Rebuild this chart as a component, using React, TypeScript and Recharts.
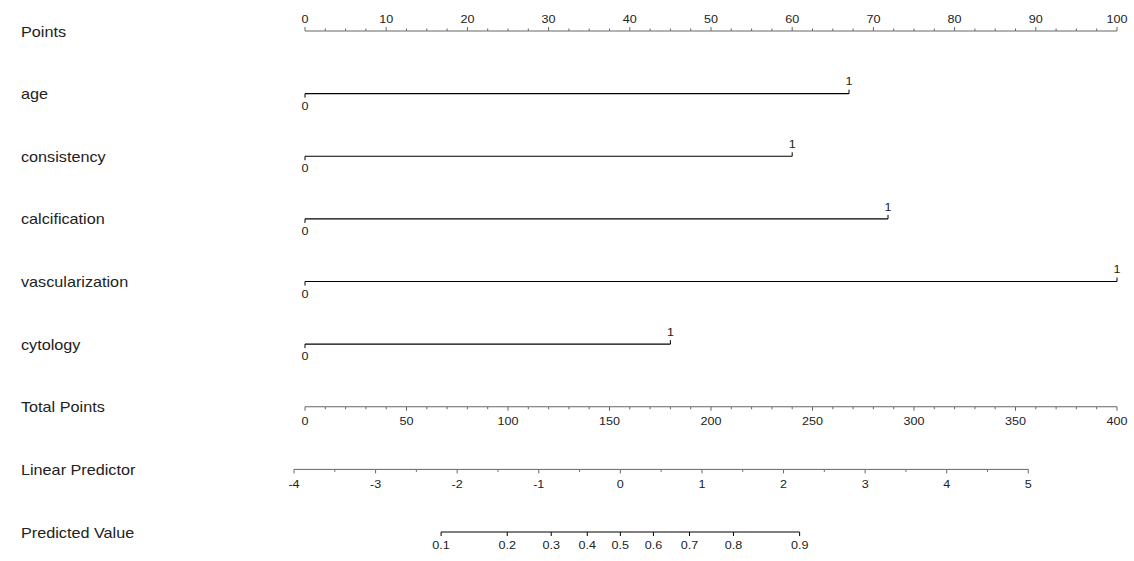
import React from "react";
import { ComposedChart, Scatter, XAxis, YAxis } from "recharts";

// nomogram rows, top to bottom
const rowLabels = [
  "Points",
  "age",
  "consistency",
  "calcification",
  "vascularization",
  "cytology",
  "Total Points",
  "Linear Predictor",
  "Predicted Value",
];

const varNames = ["age", "consistency", "calcification", "vascularization", "cytology"];
const varPoints = [67, 60, 71.8, 100, 45];
const varLevels = ["0", "1"];

const pointsMajor = [0, 10, 20, 30, 40, 50, 60, 70, 80, 90, 100];
const totalMajor = [0, 50, 100, 150, 200, 250, 300, 350, 400];
const lpMajor = [-4, -3, -2, -1, 0, 1, 2, 3, 4, 5];
const probTicks = [0.1, 0.2, 0.3, 0.4, 0.5, 0.6, 0.7, 0.8, 0.9];

// the plot area starts at the -4 of the linear predictor, so the point
// scales start a little below zero
const pointsDomain = [-1.355, 100];
const totalDomain = [-5.42, 400];
const lpDomain = [-4, 6.087];

const FONT = "'Liberation Sans', Arial, sans-serif";

const range = (a: number, b: number, step: number) => {
  const out: number[] = [];
  for (let v = a; v <= b + 1e-9; v += step) out.push(+v.toFixed(4));
  return out;
};

const logit = (p: number) => Math.log(p / (1 - p));

const pointsData = range(0, 100, 2.5).map((v) => ({
  x: v,
  y: 0,
  label: pointsMajor.includes(v) ? String(v) : null,
}));

const varData = varNames.map((name, i) => [
  { x: 0, y: i + 1, label: varLevels[0], end: "low" },
  { x: varPoints[i], y: i + 1, label: varLevels[1], end: "high" },
]);

const totalData = range(0, 400, 10).map((v) => ({
  x: v,
  y: 6,
  label: totalMajor.includes(v) ? String(v) : null,
}));

const lpData = range(-4, 5, 0.5).map((v) => ({
  x: v,
  y: 7,
  label: lpMajor.includes(v) ? String(v) : null,
}));

const probData = probTicks.map((p) => ({ x: logit(p), y: 8, label: String(p) }));

function TickLabel({ x, y, text }: { x: number; y: number; text: string }) {
  return (
    <text
      transform={`translate(${x},${y}) scale(1.2,1)`}
      textAnchor="middle"
      fontSize={10.5}
      fontFamily={FONT}
      fill="#222"
    >
      {text}
    </text>
  );
}

// tick + label for the scale axes; dir -1 = up, 1 = down
const makeTick = (dir: number, dy: number, color: string) => (props: any) => {
  const { cx, cy, payload } = props;
  const major = payload.label != null;
  const len = major ? 4 : 2.5;
  return (
    <g>
      <line x1={cx} y1={cy} x2={cx} y2={cy + dir * len} stroke={color} strokeWidth={1} />
      {major && <TickLabel x={cx} y={cy + dy} text={payload.label} />}
    </g>
  );
};

const varTick = (props: any) => {
  const { cx, cy, payload } = props;
  const low = payload.end === "low";
  return (
    <g>
      <line x1={cx} y1={cy} x2={cx} y2={cy + (low ? 4 : -4)} stroke="#000" strokeWidth={1} />
      <TickLabel x={cx} y={cy + (low ? 16 : -8.3)} text={payload.label} />
    </g>
  );
};

function RowLabel(props: any) {
  const { y, payload } = props;
  return (
    <text
      transform={`translate(21,${y + 5.5}) scale(1.08,1)`}
      fontSize={15}
      fontFamily={FONT}
      fill="#222"
    >
      {rowLabels[payload.value]}
    </text>
  );
}

export default function App() {
  return (
    <div style={{ position: "absolute", left: 0, top: 0, background: "#fff" }}>
      <ComposedChart
        width={1134}
        height={561}
        margin={{ top: 31, right: 17, bottom: 29, left: 0 }}
      >
        <XAxis xAxisId="pts" type="number" dataKey="x" domain={pointsDomain} hide />
        <XAxis xAxisId="tot" type="number" dataKey="x" domain={totalDomain} hide />
        <XAxis xAxisId="lp" type="number" dataKey="x" domain={lpDomain} hide />
        <YAxis
          type="number"
          dataKey="y"
          domain={[0, 8]}
          reversed
          width={294}
          ticks={rowLabels.map((_, i) => i)}
          interval={0}
          axisLine={false}
          tickLine={false}
          tick={<RowLabel />}
        />

        <Scatter
          xAxisId="pts"
          data={pointsData}
          line={{ stroke: "#666", strokeWidth: 1 }}
          shape={makeTick(-1, -7.7, "#666")}
          isAnimationActive={false}
        />

        {varData.map((d, i) => (
          <Scatter
            key={varNames[i]}
            xAxisId="pts"
            data={d}
            line={{ stroke: "#000", strokeWidth: 1.2 }}
            shape={varTick}
            isAnimationActive={false}
          />
        ))}

        <Scatter
          xAxisId="tot"
          data={totalData}
          line={{ stroke: "#666", strokeWidth: 1 }}
          shape={makeTick(1, 18, "#666")}
          isAnimationActive={false}
        />
        <Scatter
          xAxisId="lp"
          data={lpData}
          line={{ stroke: "#666", strokeWidth: 1 }}
          shape={makeTick(1, 18.4, "#666")}
          isAnimationActive={false}
        />
        <Scatter
          xAxisId="lp"
          data={probData}
          line={{ stroke: "#000", strokeWidth: 1 }}
          shape={makeTick(1, 17, "#000")}
          isAnimationActive={false}
        />
      </ComposedChart>
    </div>
  );
}
